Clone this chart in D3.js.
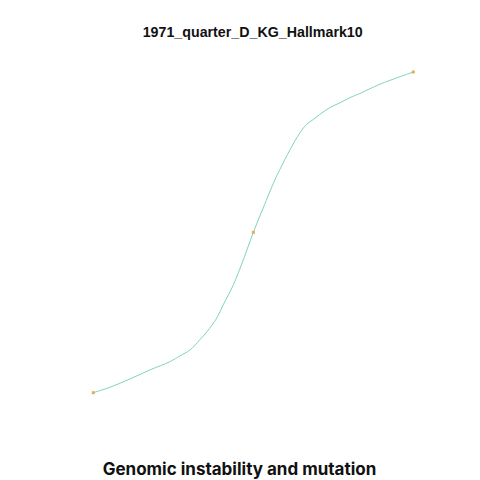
<!DOCTYPE html>
<html>
<head>
<meta charset="utf-8">
<script src="https://cdn.jsdelivr.net/npm/d3@7"></script>
<style>
  html, body { margin: 0; padding: 0; background: #fff; }
  #chart { width: 480px; height: 480px; }
</style>
</head>
<body>
<div id="chart"></div>
<script>
// curve values (S-shape, 0..100 on both axes)
const xValues = [0, 5.2, 11.5, 17.7, 24.0, 27.1, 30.2, 33.3, 35.5, 38.6, 40.6, 43.8, 46.9, 50,
                 53.1, 56.8, 58.3, 61.5, 64.6, 66.7, 68.75, 70.8, 73.9, 77.1, 80.2, 83.3, 89.6, 100];
const yValues = [0, 1.7, 4.3, 7.1, 9.7, 11.5, 13.3, 16.5, 19.0, 23.3, 27.4, 33.7, 41.5, 50,
                 57.6, 66.5, 69.6, 75.8, 81.1, 83.7, 85.2, 86.8, 88.9, 90.4, 92.0, 93.3, 96.2, 100];
const markerIndex = [0, 13, 27];
const titleText = '1971_quarter_D_KG_Hallmark10';
const labelText = 'Genomic instability and mutation';

const width = 480, height = 480;

const svg = d3.select('#chart').append('svg')
    .attr('width', width)
    .attr('height', height);

const x = d3.scaleLinear().domain([0, 100]).range([93.3, 413.3]);
const y = d3.scaleLinear().domain([0, 100]).range([392.7, 72]);

const points = xValues.map((v, i) => ({ x: v, y: yValues[i] }));

const line = d3.line()
    .x(d => x(d.x))
    .y(d => y(d.y))
    .curve(d3.curveCatmullRom.alpha(0.5));

svg.append('path')
    .datum(points)
    .attr('d', line)
    .attr('fill', 'none')
    .attr('stroke', '#7fd3c2')
    .attr('stroke-width', 1);

svg.selectAll('.marker')
    .data(markerIndex.map(i => points[i]))
    .enter().append('rect')
    .attr('class', 'marker')
    .attr('x', d => x(d.x) - 1.5)
    .attr('y', d => y(d.y) - 1.5)
    .attr('width', 3)
    .attr('height', 3)
    .attr('fill', '#e6ab5e');

svg.append('text')
    .attr('x', 252.7)
    .attr('y', 37.3)
    .attr('text-anchor', 'middle')
    .attr('font-family', 'Liberation Sans, Arial, sans-serif')
    .attr('font-weight', 'bold')
    .attr('font-size', '14.5px')
    .attr('textLength', 220)
    .attr('lengthAdjust', 'spacingAndGlyphs')
    .attr('fill', '#111')
    .text(titleText);

svg.append('text')
    .attr('x', 239.5)
    .attr('y', 475)
    .attr('text-anchor', 'middle')
    .attr('font-family', 'Inter, sans-serif')
    .attr('font-weight', 'bold')
    .attr('font-size', '17px')
    .attr('fill', '#111')
    .text(labelText);
</script>
</body>
</html>
